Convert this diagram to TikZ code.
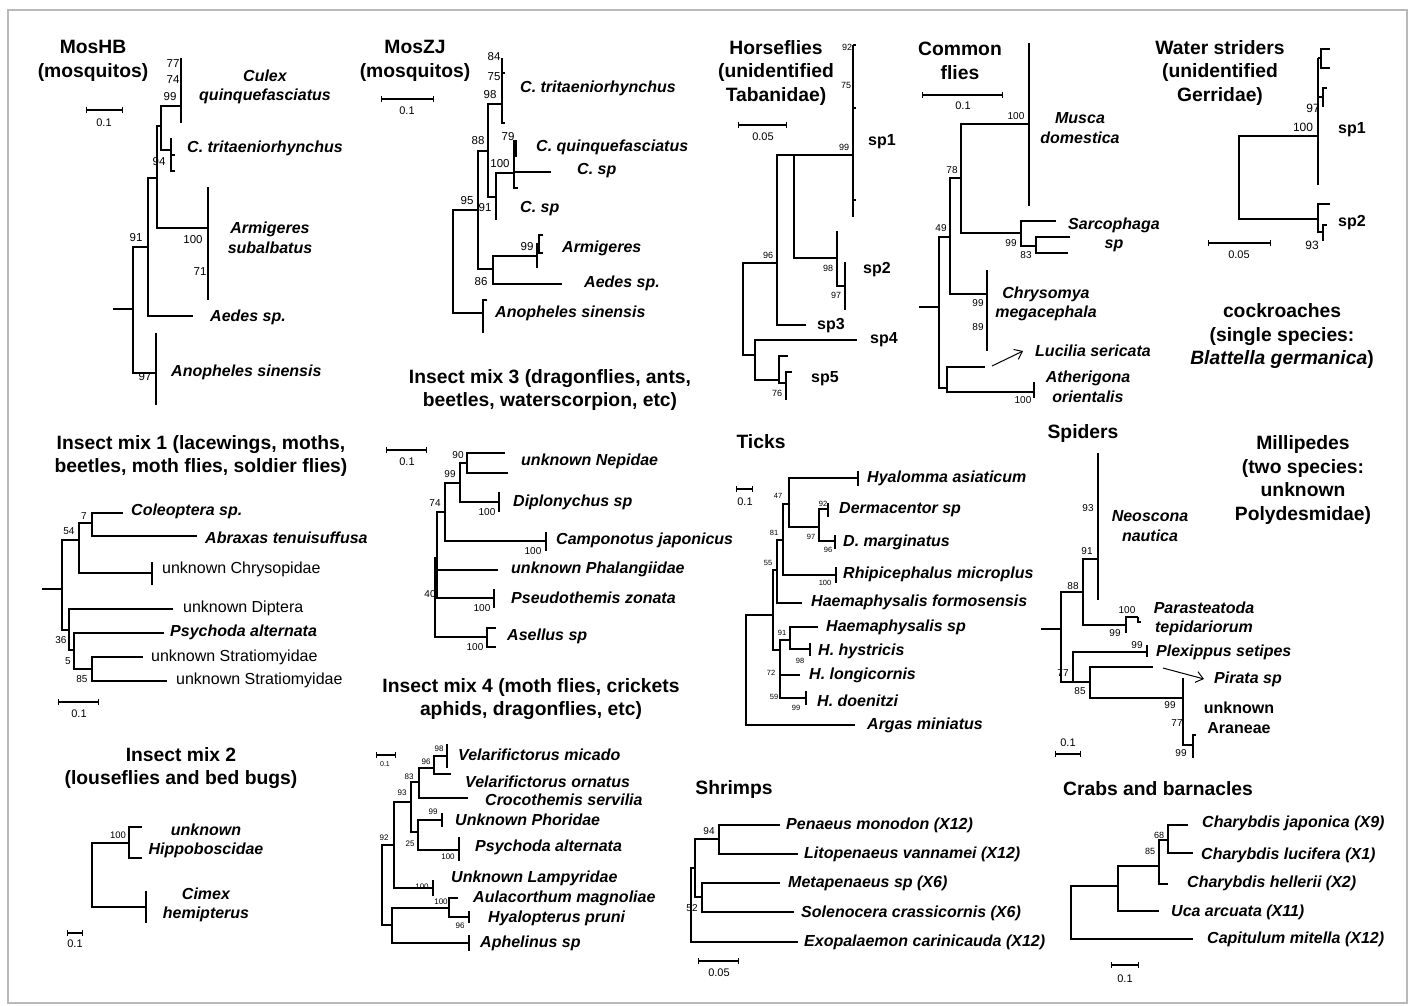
\documentclass[tikz,border=0pt]{standalone}
\usepackage{fontspec}
\setmainfont{Liberation Sans}
\usetikzlibrary{arrows.meta}

\begin{document}
\begin{tikzpicture}[x=1pt, y=-1pt,
  br/.style     = {line width=1.2pt},
  ttl/.style    = {font=\fontsize{19.3}{23.5}\selectfont\bfseries, align=center, inner sep=0pt},
  tx/.style     = {font=\fontsize{16}{19.5}\selectfont\bfseries\itshape, inner sep=0pt, anchor=west},
  txc/.style    = {tx, anchor=center, align=center},
  txr/.style    = {tx, font=\fontsize{16}{19.5}\selectfont},
  txb/.style    = {tx, font=\fontsize{16}{19.5}\selectfont\bfseries},
  bs/.style     = {font=\fontsize{#1}{#1}\selectfont, inner sep=0pt},
  bs/.default   = 10,
  scl/.style    = {line width=1.1pt, {Bar[width=6pt]}-{Bar[width=6pt]}},
  slab/.style   = {font=\fontsize{#1}{#1}\selectfont, inner sep=0pt},
  slab/.default = 11,
  arr/.style    = {line width=1pt, -{Straight Barb[length=7pt, width=11pt]}},
]
\fill[white] (0,0) rectangle (1412,1005);
\useasboundingbox (0,0) rectangle (1412,1005);
\draw[gray!55, line width=1.5pt] (8,10) rectangle (1407,1003);

% ---------------- MosHB -------------------------------------------------
\node[ttl] (hbt) at (93,61) {MosHB\\(mosquitos)};
\draw[scl] (86,110) -- (123,110);
\node[slab] (hbs) at (104,123) {0.1};
\draw[br] (113,309) -- (133,309);
\draw[br] (148,247) -| (133,373) -- (156,373);
\draw[br] (156,333) -- (156,405);
\draw[br] (157,178) -| (148,316) -- (193,316);
\draw[br] (161,126) -| (157,228) -- (208,228);
\draw[br] (208,187) -- (208,300);
\draw[br] (181,106) -| (161,150) -- (171,150);
\draw[br] (181,58) -- (181,123);
\draw[br] (171,138) -- (171,171) -- (175,171);
\draw[br] (171,155) -- (175,155);
\foreach \x/\y/\t [count=\i] in {173/64/77, 173/80/74, 170/97/99, 159/162/94,
    193/240/100, 200/272/71, 136/238/91, 145/377/97}
  \node[bs=11.5] (hb\i) at (\x,\y) {\t};
\node[txc] (hbcq) at (265,87) {Culex\\quinquefasciatus};
\node[tx]  (hbct) at (187,148) {C. tritaeniorhynchus};
\node[txc] (hbas) at (270,238) {Armigeres\\subalbatus};
\node[tx]  (hbae) at (210,317) {Aedes sp.};
\node[tx]  (hban) at (171,372) {Anopheles sinensis};

% ---------------- MosZJ -------------------------------------------------
\node[ttl] (zjt) at (415,61) {MosZJ\\(mosquitos)};
\draw[scl] (381,99) -- (434,99);
\node[slab] (zjs) at (407,111) {0.1};
\draw[br] (478,210) -| (453,313) -- (483,313);
\draw[br] (487,300) -| (483,333);
\draw[br] (488,151) -| (478,269) -- (493,269);
\draw[br] (537,256) -| (493,284) -- (562,284);
\draw[br] (537,243) -- (537,268);
\draw[br] (543,235) -| (539,253) -- (543,253);
\draw[br] (502,104) -| (488,197) -- (496,197);
\draw[br] (502,58) -- (502,123) -- (505,123);
\draw[br] (502,73) -- (505,73);
\draw[br] (514,173) -| (496,220);
\draw[br] (514,140) -- (514,188) -- (518,188);
\draw[br] (514,172) -- (551,172);
\draw[br] (516,140) -- (516,157);
\foreach \x/\y/\t [count=\i] in {494/57/84, 494/77/75, 490/95/98, 508/137/79,
    500/164/100, 478/141/88, 485/208/91, 467/201/95, 527/247/99, 481/282/86}
  \node[bs=11.5] (zj\i) at (\x,\y) {\t};
\node[tx] (zjct) at (520,88) {C. tritaeniorhynchus};
\node[tx] (zjcq) at (536,147) {C. quinquefasciatus};
\node[tx] (zjc1) at (577,171) {C. sp};
\node[tx] (zjc2) at (520,209) {C. sp};
\node[tx] (zjar) at (562,248) {Armigeres};
\node[tx] (zjae) at (584,283) {Aedes sp.};
\node[tx] (zjan) at (495,313) {Anopheles sinensis};

% ---------------- Horseflies --------------------------------------------
\node[ttl] (hft) at (776,73) {Horseflies\\(unidentified\\Tabanidae)};
\draw[scl] (738,125) -- (787,125);
\node[slab] (hfs) at (763,137) {0.05};
\draw[br] (777,263) -| (743,355) -- (755,355);
\draw[br] (794,155) -| (777,325) -- (806,325);
\draw[br] (853,155) -| (794,258) -- (837,258);
\draw[br] (853,45) -- (853,217);
\draw[br] (853,45) -- (856,45);
\draw[br] (853,108) -- (856,108);
\draw[br] (853,200) -- (856,200);
\draw[br] (837,231) -- (837,286) -- (845,286);
\draw[br] (845,262) -- (845,310);
\draw[br] (857,340) -| (755,380) -- (779,380);
\draw[br] (788,356) -| (779,383) -- (786,383);
\draw[br] (792,372) -| (786,400);
\foreach \x/\y/\t [count=\i] in {847/47/92, 846/85/75, 844/147/99, 768/255/96,
    828/268/98, 836/295/97, 777/393/76}
  \node[bs=9] (hf\i) at (\x,\y) {\t};
\node[txb] (hfs1) at (868,142) {sp1};
\node[txb] (hfs2) at (863,270) {sp2};
\node[txb] (hfs3) at (817,326) {sp3};
\node[txb] (hfs4) at (870,340) {sp4};
\node[txb] (hfs5) at (811,379) {sp5};

% ---------------- Common flies ------------------------------------------
\node[ttl] (cft) at (960,61) {Common\\flies};
\draw[scl] (922,95) -- (1003,95);
\node[slab] (cfs) at (963,106) {0.1};
\draw[br] (919,307) -- (939,307);
\draw[br] (950,237) -| (939,388) -- (947,388);
\draw[br] (985,367) -| (947,392) -- (1034,392);
\draw[br] (1034,382) -- (1034,398);
\draw[br] (961,178) -| (950,294) -- (987,294);
\draw[br] (987,270) -- (987,351);
\draw[br] (1029,124) -| (961,233) -- (1021,233);
\draw[br] (1029,43) -- (1029,206);
\draw[br] (1056,221) -| (1021,246) -- (1036,246);
\draw[br] (1070,237) -| (1036,253) -- (1068,253);
\foreach \x/\y/\t [count=\i] in {1016/116/100, 952/170/78, 941/228/49, 1011/243/99,
    1026/255/83, 978/303/99, 978/327/89, 1023/400/100}
  \node[bs=10] (cf\i) at (\x,\y) {\t};
\node[txc] (cfmu) at (1080,128) {Musca\\domestica};
\node[txc] (cfsa) at (1114,235) {Sarcophaga\\sp};
\node[txc] (cfch) at (1046,304) {Chrysomya\\megacephala};
\node[tx]  (cflu) at (1035,351) {Lucilia sericata};
\node[txc] (cfat) at (1088,387) {Atherigona\\orientalis};
\coordinate (cfla) at (992,366);
\draw[arr] (cfla) -- ([xshift=-12pt]cflu.west);

% ---------------- Water striders ----------------------------------------
\node[ttl] (wst) at (1220,73) {Water striders\\(unidentified\\Gerridae)};
\draw[scl] (1208,243) -- (1271,243);
\node[slab] (wss) at (1239,255) {0.05};
\draw[br] (1318,136) -| (1239,219) -- (1318,219);
\draw[br] (1318,58) -- (1318,185);
\draw[br] (1318,58) -- (1321,58);
\draw[br] (1330,49) -| (1321,68) -- (1330,68);
\draw[br] (1318,97) -- (1323,97);
\draw[br] (1327,88) -| (1323,107);
\draw[br] (1330,204) -| (1318,232) -- (1323,232);
\draw[br] (1327,225) -| (1323,241);
\foreach \x/\y/\t [count=\i] in {1313/108/97, 1303/127/100, 1312/245/93}
  \node[bs=12] (ws\i) at (\x,\y) {\t};
\node[txb] (wss1) at (1338,130) {sp1};
\node[txb] (wss2) at (1338,223) {sp2};

\node[ttl] (ckt) at (1282,336) {cockroaches\\(single species:\\\textit{Blattella germanica})};

% ---------------- Insect mix 1 ------------------------------------------
\node[ttl] (m1t) at (201,456) {Insect mix 1 (lacewings, moths,\\beetles, moth flies, soldier flies)};
\draw[scl] (58,702) -- (99,702);
\node[slab] (m1s) at (79,714) {0.1};
\draw[br] (42,589) -- (62,589);
\draw[br] (79,540) -| (62,630) -- (69,630);
\draw[br] (92,523) -| (79,573) -- (152,573);
\draw[br] (152,562) -- (152,585);
\draw[br] (123,513) -| (92,536) -- (197,536);
\draw[br] (173,609) -| (69,650) -- (74,650);
\draw[br] (164,633) -| (74,669) -- (92,669);
\draw[br] (143,657) -| (92,681) -- (167,681);
\foreach \x/\y/\t [count=\i] in {84/516/7, 69/531/54, 61/640/36, 68/661/5, 82/679/85}
  \node[bs=10] (m1\i) at (\x,\y) {\t};
\node[tx]  (m1co) at (131,511) {Coleoptera sp.};
\node[tx]  (m1ab) at (205,538) {Abraxas tenuisuffusa};
\node[txr] (m1cp) at (162,569) {unknown Chrysopidae};
\node[txr] (m1di) at (183,608) {unknown Diptera};
\node[tx]  (m1ps) at (170,632) {Psychoda alternata};
\node[txr] (m1s1) at (151,657) {unknown Stratiomyidae};
\node[txr] (m1s2) at (176,680) {unknown Stratiomyidae};

% ---------------- Insect mix 3 ------------------------------------------
\node[ttl] (m3t) at (550,390) {Insect mix 3 (dragonflies, ants,\\beetles, waterscorpion, etc)};
\draw[scl] (386,450) -- (427,450);
\node[slab] (m3s) at (407,462) {0.1};
\draw[br] (435,557) -- (435,637) -- (487,637);
\draw[br] (445,512) -| (437,598) -- (494,598);
\draw[br] (437,570) -- (498,570);
\draw[br] (494,589) -- (494,608);
\draw[br] (496,628) -| (487,647) -- (496,647);
\draw[br] (460,483) -| (445,541) -- (546,541);
\draw[br] (546,532) -- (546,551);
\draw[br] (467,463) -| (460,502) -- (499,502);
\draw[br] (499,492) -- (499,512);
\draw[br] (505,453) -| (467,473) -- (508,473);
\foreach \x/\y/\t [count=\i] in {458/455/90, 450/474/99, 435/503/74, 487/512/100,
    533/551/100, 430/594/40, 482/608/100, 475/647/100}
  \node[bs=10] (m3\i) at (\x,\y) {\t};
\node[tx] (m3ne) at (521,461) {unknown Nepidae};
\node[tx] (m3di) at (513,502) {Diplonychus sp};
\node[tx] (m3ca) at (556,540) {Camponotus japonicus};
\node[tx] (m3ph) at (511,569) {unknown Phalangiidae};
\node[tx] (m3ps) at (511,598) {Pseudothemis zonata};
\node[tx] (m3as) at (507,636) {Asellus sp};

% ---------------- Ticks -------------------------------------------------
\node[ttl] (tkt) at (761,442) {Ticks};
\draw[scl] (736,489) -- (753,489);
\node[slab] (tks) at (745,502) {0.1};
\draw[br] (773,615) -| (746,725) -- (855,725);
\draw[br] (777,570) -| (773,650) -- (780,650);
\draw[br] (790,640) -| (780,698) -- (806,698);
\draw[br] (780,675) -- (800,675);
\draw[br] (818,627) -| (790,649) -- (810,649);
\draw[br] (810,643) -- (810,656);
\draw[br] (806,691) -- (806,705);
\draw[br] (783,540) -| (777,603) -- (802,603);
\draw[br] (789,504) -| (783,575) -- (836,575);
\draw[br] (836,567) -- (836,583);
\draw[br] (858,478) -| (789,527) -- (819,527);
\draw[br] (858,471) -- (858,486);
\draw[br] (828,509) -| (819,541) -- (835,541);
\draw[br] (828,503) -- (828,517);
\draw[br] (835,535) -- (835,549);
\foreach \x/\y/\t [count=\i] in {778/496/47, 823/504/92, 811/537/97, 828/550/96,
    774/533/81, 825/583/100, 768/563/55, 782/633/91, 800/661/98, 771/673/72,
    774/697/59, 796/708/99}
  \node[bs=7.5] (tk\i) at (\x,\y) {\t};
\node[tx] (tkhy) at (867,478) {Hyalomma asiaticum};
\node[tx] (tkde) at (839,510) {Dermacentor sp};
\node[tx] (tkdm) at (843,542) {D. marginatus};
\node[tx] (tkrh) at (843,574) {Rhipicephalus microplus};
\node[tx] (tkhf) at (811,602) {Haemaphysalis formosensis};
\node[tx] (tkhs) at (826,627) {Haemaphysalis sp};
\node[tx] (tkhh) at (818,651) {H. hystricis};
\node[tx] (tkhl) at (809,675) {H. longicornis};
\node[tx] (tkhd) at (817,701) {H. doenitzi};
\node[tx] (tkar) at (867,725) {Argas miniatus};

% ---------------- Spiders -----------------------------------------------
\node[ttl] (spt) at (1083,433) {Spiders};
\draw[scl] (1055,754) -- (1081,754);
\node[slab] (sps) at (1068,743) {0.1};
\draw[br] (1041,629) -- (1061,629);
\draw[br] (1083,592) -| (1061,682) -- (1090,682);
\draw[br] (1098,559) -| (1083,625) -- (1126,625);
\draw[br, line width=1.6pt] (1098,453) -- (1098,600);
\draw[br] (1138,617) -| (1126,633);
\draw[br] (1138,617) -- (1138,622) -- (1141,622);
\draw[br] (1073,682) -- (1073,652) -- (1147,652);
\draw[br] (1147,645) -- (1147,657);
\draw[br] (1153,667) -| (1090,698) -- (1183,698);
\draw[br] (1183,678) -- (1183,745) -- (1193,745);
\draw[br] (1196,735) -| (1193,758);
\foreach \x/\y/\t [count=\i] in {1088/508/93, 1087/551/91, 1073/586/88, 1127/610/100,
    1115/633/99, 1137/645/99, 1063/673/77, 1080/691/85, 1170/705/99, 1177/723/77,
    1181/753/99}
  \node[bs=10] (sp\i) at (\x,\y) {\t};
\node[txc] (spne) at (1150,526) {Neoscona\\nautica};
\node[txc] (sppa) at (1204,619) {Parasteatoda\\tepidariorum};
\node[tx]  (sppl) at (1156,652) {Plexippus setipes};
\node[tx]  (sppi) at (1214,679) {Pirata sp};
\node[txb, anchor=center, align=center] (spun) at (1239,718) {unknown\\Araneae};
\coordinate (spla) at (1163,668);
\draw[arr] (spla) -- ([xshift=-10pt]sppi.west);

\node[ttl] (mpt) at (1303,480) {Millipedes\\(two species:\\unknown\\Polydesmidae)};

% ---------------- Insect mix 2 ------------------------------------------
\node[ttl] (m2t) at (181,768) {Insect mix 2\\(louseflies and bed bugs)};
\draw[scl] (67,933) -- (83,933);
\node[slab] (m2s) at (75,944) {0.1};
\draw[br] (129,843) -| (92,907) -- (146,907);
\draw[br] (142,827) -| (129,858) -- (142,858);
\draw[br] (146,891) -- (146,923);
\node[bs=9.5] (m21) at (118,835) {100};
\node[txc] (m2hi) at (206,841) {unknown\\Hippoboscidae};
\node[txc] (m2ci) at (206,905) {Cimex\\hemipterus};

% ---------------- Insect mix 4 ------------------------------------------
\node[ttl] (m4t) at (531,699) {Insect mix 4 (moth flies, crickets\\aphids, dragonflies, etc)};
\draw[scl] (376,755) -- (396,755);
\node[slab=7] (m4s) at (385,764) {0.1};
\draw[br] (394,845) -| (382,925) -- (392,925);
\draw[br] (411,802) -| (394,888) -- (433,888);
\draw[br] (433,880) -- (433,896);
\draw[br] (419,782) -| (411,832) -- (418,832);
\draw[br] (434,768) -| (419,798) -- (468,798);
\draw[br] (447,756) -| (434,774) -- (451,774);
\draw[br] (447,744) -- (447,768);
\draw[br] (442,820) -| (418,850) -- (459,850);
\draw[br] (442,813) -- (442,827);
\draw[br] (459,837) -- (459,861);
\draw[br] (449,908) -| (392,943) -- (469,943);
\draw[br] (469,935) -- (469,951);
\draw[br] (458,898) -| (449,917) -- (469,917);
\draw[br] (469,911) -- (469,923);
\foreach \x/\y/\t [count=\i] in {439/749/98, 426/762/96, 409/777/83, 402/793/93,
    433/812/99, 384/838/92, 410/844/25, 448/857/100, 422/887/100, 441/902/100,
    460/926/96}
  \node[bs=8] (m4\i) at (\x,\y) {\t};
\node[tx] (m4vm) at (458,755) {Velarifictorus micado};
\node[tx] (m4vo) at (465,782) {Velarifictorus ornatus};
\node[tx] (m4cr) at (485,800) {Crocothemis servilia};
\node[tx] (m4ph) at (455,820) {Unknown Phoridae};
\node[tx] (m4ps) at (475,847) {Psychoda alternata};
\node[tx] (m4la) at (451,878) {Unknown Lampyridae};
\node[tx] (m4au) at (473,898) {Aulacorthum magnoliae};
\node[tx] (m4hy) at (488,918) {Hyalopterus pruni};
\node[tx] (m4ap) at (480,943) {Aphelinus sp};

% ---------------- Shrimps -----------------------------------------------
\node[ttl] (sht) at (734,789) {Shrimps};
\draw[scl] (698,961) -- (739,961);
\node[slab] (shs) at (719,973) {0.05};
\draw[br] (695,868) -| (691,942) -- (798,942);
\draw[br] (719,839) -| (695,897) -- (702,897);
\draw[br] (780,825) -| (719,854) -- (798,854);
\draw[br] (780,883) -| (702,912) -- (794,912);
\node[bs=10] (sh1) at (709,831) {94};
\node[bs=10] (sh2) at (692,908) {52};
\node[tx] (shpe) at (786,825) {Penaeus monodon (X12)};
\node[tx] (shli) at (804,854) {Litopenaeus vannamei (X12)};
\node[tx] (shme) at (788,883) {Metapenaeus sp (X6)};
\node[tx] (shso) at (801,913) {Solenocera crassicornis (X6)};
\node[tx] (shex) at (804,942) {Exopalaemon carinicauda (X12)};

% ---------------- Crabs and barnacles -----------------------------------
\node[ttl] (crt) at (1158,789) {Crabs and barnacles};
\draw[scl] (1111,965) -- (1139,965);
\node[slab] (crs) at (1125,979) {0.1};
\draw[br] (1118,886) -| (1071,939) -- (1193,939);
\draw[br] (1159,866) -| (1118,911) -- (1159,911);
\draw[br] (1168,840) -| (1159,884) -- (1168,884);
\draw[br] (1188,825) -| (1168,853) -- (1193,853);
\node[bs=9] (cr1) at (1159,835) {68};
\node[bs=9] (cr2) at (1150,851) {85};
\node[tx] (crja) at (1202,823) {Charybdis japonica (X9)};
\node[tx] (crlu) at (1201,855) {Charybdis lucifera (X1)};
\node[tx] (crhe) at (1187,883) {Charybdis hellerii (X2)};
\node[tx] (cruc) at (1171,912) {Uca arcuata (X11)};
\node[tx] (crca) at (1207,939) {Capitulum mitella (X12)};

\end{tikzpicture}
\end{document}
